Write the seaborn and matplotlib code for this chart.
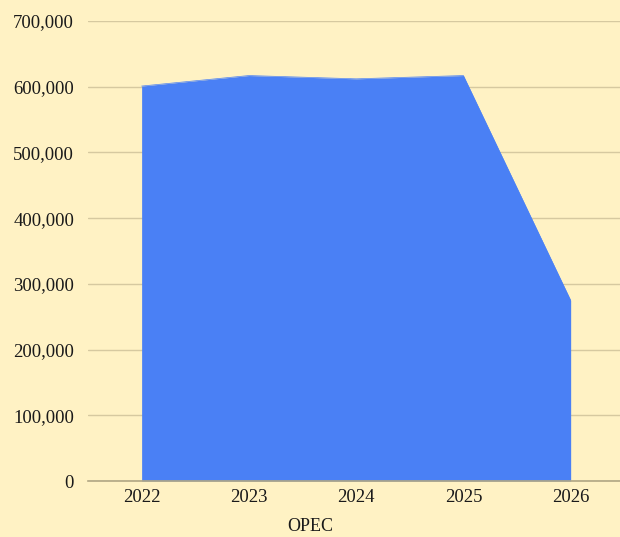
import matplotlib
matplotlib.use("Agg")
import matplotlib.pyplot as plt
import seaborn as sns
import pandas as pd
from matplotlib.ticker import FuncFormatter

# Data
years = [2022, 2023, 2024, 2025, 2026]
opec = [601000, 617000, 612000, 617000, 275000]
y_ticks = [0, 100000, 200000, 300000, 400000, 500000, 600000, 700000]

df = pd.DataFrame({"year": years, "OPEC": opec})

bg = "#FFF2C4"
blue = "#4A80F5"

sns.set_theme(style="white")
plt.rcParams["font.family"] = ["Liberation Serif", "DejaVu Serif"]

fig = plt.figure(figsize=(6.2, 5.37), dpi=100, facecolor=bg)
ax = fig.add_axes([88 / 620, 1 - 481 / 537, 1 - 88 / 620, (481 - 21) / 537])
ax.set_facecolor(bg)

sns.lineplot(data=df, x="year", y="OPEC", color=blue, linewidth=0.5, ax=ax)
ax.fill_between(df["year"], df["OPEC"], 0, color=blue, linewidth=0)

ax.set_xlim(2021.5, 2026.46)
ax.set_ylim(0, 700000)
ax.set_yticks(y_ticks)
ax.set_xticks(years)
ax.yaxis.set_major_formatter(FuncFormatter(lambda v, p: f"{int(v):,}"))
ax.tick_params(axis="both", length=0, labelsize=13.5, colors="#1a1a1a")
ax.tick_params(axis="y", pad=10)
ax.tick_params(axis="x", pad=6)

ax.grid(axis="y", color="#D6C9A0", linewidth=1)
ax.set_axisbelow(True)
for s in ["left", "right", "top"]:
    ax.spines[s].set_visible(False)
ax.spines["bottom"].set_color("#B0A684")
ax.spines["bottom"].set_linewidth(1.2)
ax.spines["bottom"].set_zorder(5)

ax.set_xlabel("")
ax.set_ylabel("")
fig.text(0.5, 2 / 537, "OPEC", ha="center", va="bottom", fontsize=13, color="#1a1a1a")

fig.savefig("out.png", dpi=100, facecolor=bg)
